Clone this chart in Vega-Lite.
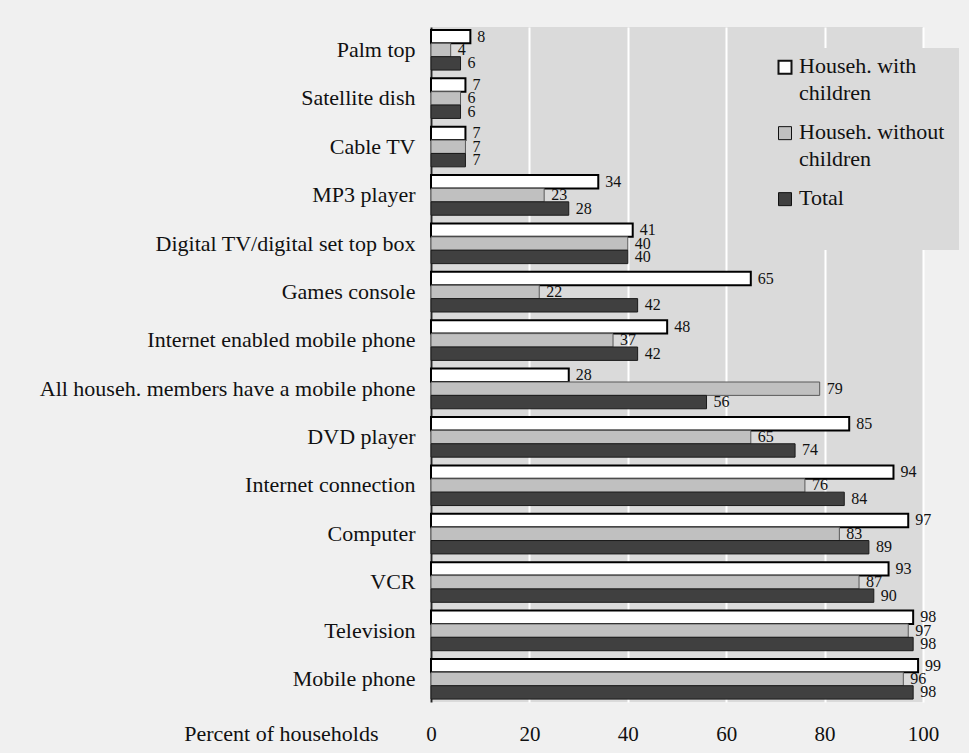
{
  "$schema": "https://vega.github.io/schema/vega-lite/v6.json",
  "width": 492,
  "height": 675,
  "autosize": {"type": "none"},
  "padding": {"left": 431, "top": 27, "right": 46, "bottom": 51},
  "background": "#f0f0f0",
  "config": {
    "view": {"fill": "#dadada", "stroke": null},
    "font": "Liberation Serif"
  },
  "data": {
    "values": [
      {"item": "Palm top", "series": "Househ. with children", "value": 8},
      {"item": "Palm top", "series": "Househ. without children", "value": 4},
      {"item": "Palm top", "series": "Total", "value": 6},
      {"item": "Satellite dish", "series": "Househ. with children", "value": 7},
      {"item": "Satellite dish", "series": "Househ. without children", "value": 6},
      {"item": "Satellite dish", "series": "Total", "value": 6},
      {"item": "Cable TV", "series": "Househ. with children", "value": 7},
      {"item": "Cable TV", "series": "Househ. without children", "value": 7},
      {"item": "Cable TV", "series": "Total", "value": 7},
      {"item": "MP3 player", "series": "Househ. with children", "value": 34},
      {"item": "MP3 player", "series": "Househ. without children", "value": 23},
      {"item": "MP3 player", "series": "Total", "value": 28},
      {"item": "Digital TV/digital set top box", "series": "Househ. with children", "value": 41},
      {"item": "Digital TV/digital set top box", "series": "Househ. without children", "value": 40},
      {"item": "Digital TV/digital set top box", "series": "Total", "value": 40},
      {"item": "Games console", "series": "Househ. with children", "value": 65},
      {"item": "Games console", "series": "Househ. without children", "value": 22},
      {"item": "Games console", "series": "Total", "value": 42},
      {"item": "Internet enabled mobile phone", "series": "Househ. with children", "value": 48},
      {"item": "Internet enabled mobile phone", "series": "Househ. without children", "value": 37},
      {"item": "Internet enabled mobile phone", "series": "Total", "value": 42},
      {"item": "All househ. members have a mobile phone", "series": "Househ. with children", "value": 28},
      {"item": "All househ. members have a mobile phone", "series": "Househ. without children", "value": 79},
      {"item": "All househ. members have a mobile phone", "series": "Total", "value": 56},
      {"item": "DVD player", "series": "Househ. with children", "value": 85},
      {"item": "DVD player", "series": "Househ. without children", "value": 65},
      {"item": "DVD player", "series": "Total", "value": 74},
      {"item": "Internet connection", "series": "Househ. with children", "value": 94},
      {"item": "Internet connection", "series": "Househ. without children", "value": 76},
      {"item": "Internet connection", "series": "Total", "value": 84},
      {"item": "Computer", "series": "Househ. with children", "value": 97},
      {"item": "Computer", "series": "Househ. without children", "value": 83},
      {"item": "Computer", "series": "Total", "value": 89},
      {"item": "VCR", "series": "Househ. with children", "value": 93},
      {"item": "VCR", "series": "Househ. without children", "value": 87},
      {"item": "VCR", "series": "Total", "value": 90},
      {"item": "Television", "series": "Househ. with children", "value": 98},
      {"item": "Television", "series": "Househ. without children", "value": 97},
      {"item": "Television", "series": "Total", "value": 98},
      {"item": "Mobile phone", "series": "Househ. with children", "value": 99},
      {"item": "Mobile phone", "series": "Househ. without children", "value": 96},
      {"item": "Mobile phone", "series": "Total", "value": 98}
    ]
  },
  "encoding": {
    "y": {
      "field": "item",
      "type": "nominal",
      "sort": null,
      "scale": {"paddingInner": 0.17, "paddingOuter": 0.06},
      "axis": {
        "title": null,
        "labelFontSize": 22,
        "labelColor": "#111111",
        "labelPadding": 16,
        "labelLimit": 430,
        "ticks": false,
        "domainColor": "#262626",
        "domainWidth": 2,
        "grid": false
      }
    },
    "yOffset": {
      "field": "series",
      "type": "nominal",
      "sort": ["Househ. with children", "Househ. without children", "Total"]
    },
    "x": {
      "field": "value",
      "type": "quantitative",
      "scale": {"domain": [0, 100]},
      "axis": {
        "values": [0, 20, 40, 60, 80, 100],
        "title": "Percent of households",
        "titleX": -53,
        "titleY": 31,
        "titleAlign": "right",
        "titleBaseline": "middle",
        "titleFontSize": 22,
        "titleFontWeight": "normal",
        "titleColor": "#111111",
        "labelFontSize": 21,
        "labelColor": "#111111",
        "labelPadding": 21,
        "labelFlush": false,
        "ticks": false,
        "domain": false,
        "grid": true,
        "gridColor": "#ffffff",
        "gridWidth": 2,
        "gridOpacity": 1
      }
    }
  },
  "layer": [
    {
      "mark": {"type": "bar"},
      "encoding": {
        "color": {
          "field": "series",
          "type": "nominal",
          "sort": ["Househ. with children", "Househ. without children", "Total"],
          "scale": {"range": ["#ffffff", "#c0c0c0", "#404040"]},
          "legend": {
            "title": null,
            "orient": "none",
            "legendX": 329,
            "legendY": 21,
            "fillColor": "#dadada",
            "padding": 14,
            "labelFontSize": 22,
            "labelColor": "#111111",
            "labelBaseline": "alphabetic",
            "labelOffset": 3,
            "labelLimit": 300,
            "rowPadding": 17,
            "symbolType": "M-1,-1.9H1V0.1H-1Z",
            "symbolSize": 169,
            "labelExpr": "datum.value == 'Househ. with children' ? ['Househ. with', 'children'] : datum.value == 'Househ. without children' ? ['Househ. without', 'children'] : ['Total', '']",
            "encode": {
              "labels": {"update": {"lineHeight": {"value": 27}}},
              "symbols": {
                "update": {
                  "stroke": {"value": "#111111"},
                  "strokeWidth": {"signal": "datum.value == 'Househ. with children' ? 2 : 1"}
                }
              }
            }
          }
        },
        "stroke": {
          "field": "series",
          "type": "nominal",
          "sort": ["Househ. with children", "Househ. without children", "Total"],
          "scale": {"range": ["#000000", "#595959", "#1a1a1a"]},
          "legend": null
        },
        "strokeWidth": {
          "field": "series",
          "type": "nominal",
          "sort": ["Househ. with children", "Househ. without children", "Total"],
          "scale": {"type": "ordinal", "range": [2, 1, 1]},
          "legend": null
        }
      }
    },
    {
      "mark": {"type": "text", "align": "left", "baseline": "middle", "dx": 7, "fontSize": 16, "color": "#111111"},
      "encoding": {"text": {"field": "value", "type": "quantitative"}}
    }
  ]
}
